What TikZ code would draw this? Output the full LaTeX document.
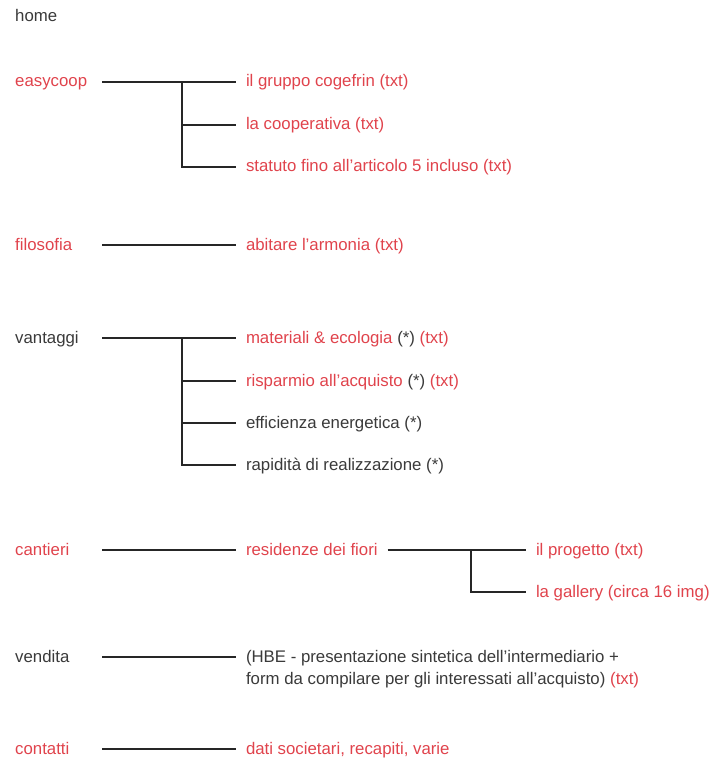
\documentclass[tikz,border=0pt]{standalone}
\usepackage{fontspec}
\setmainfont{Liberation Sans}
\usepackage{tikz}

\definecolor{sitered}{HTML}{E0434C}
\definecolor{sitegray}{HTML}{3A3A3A}

\begin{document}
\begin{tikzpicture}[x=1pt,y=-1pt,
    lbl/.style={anchor=west,inner sep=0pt,text height=12.5pt,text depth=2.5pt,
        font=\fontsize{16.8}{22}\selectfont,text=sitegray},
    sub/.style={lbl,outer xsep=10pt},
    hot/.style={text=sitered},
    link/.style={draw=black!85,line width=1.1pt}]

    \useasboundingbox (0,0) rectangle (710,759);

    % columns where the connectors start and fork
    \coordinate (start) at (102,0);
    \coordinate (fork) at (182,0);
    \coordinate (fork2) at (471,0);

    \node[lbl] (home) at (15,17) {home};

    % easycoop
    \node[lbl,hot] (easycoop) at (15,82) {easycoop};
    \node[sub,hot] (gruppo) at (236,82) {il gruppo cogefrin (txt)};
    \node[sub,hot] (coop) at (236,125) {la cooperativa (txt)};
    \node[sub,hot] (statuto) at (236,167) {statuto fino all’articolo 5 incluso (txt)};
    \draw[link] (easycoop -| start) -- (gruppo.west);
    \draw[link] (gruppo -| fork) |- (statuto.west);
    \draw[link] (coop -| fork) -- (coop.west);

    % filosofia
    \node[lbl,hot] (filosofia) at (15,245) {filosofia};
    \node[sub,hot] (armonia) at (236,245) {abitare l’armonia (txt)};
    \draw[link] (filosofia -| start) -- (armonia.west);

    % vantaggi
    \node[lbl] (vantaggi) at (15,338) {vantaggi};
    \node[sub] (materiali) at (236,338)
        {\textcolor{sitered}{materiali \& ecologia} (*) \textcolor{sitered}{(txt)}};
    \node[sub] (risparmio) at (236,381)
        {\textcolor{sitered}{risparmio all’acquisto} (*) \textcolor{sitered}{(txt)}};
    \node[sub] (efficienza) at (236,423) {efficienza energetica (*)};
    \node[sub] (rapidita) at (236,465) {rapidità di realizzazione (*)};
    \draw[link] (vantaggi -| start) -- (materiali.west);
    \draw[link] (materiali -| fork) |- (rapidita.west);
    \draw[link] (risparmio -| fork) -- (risparmio.west);
    \draw[link] (efficienza -| fork) -- (efficienza.west);

    % cantieri
    \node[lbl,hot] (cantieri) at (15,550) {cantieri};
    \node[sub,hot] (residenze) at (236,550) {residenze dei fiori};
    \node[sub,hot] (progetto) at (526,550) {il progetto (txt)};
    \node[sub,hot] (gallery) at (526,592) {la gallery (circa 16 img)};
    \draw[link] (cantieri -| start) -- (residenze.west);
    \draw[link] (residenze.east) -- (progetto.west);
    \draw[link] (progetto -| fork2) |- (gallery.west);

    % vendita
    \node[lbl] (vendita) at (15,657) {vendita};
    \node[sub,align=left,text height=,text depth=,anchor=base west] (hbe) at (236,684)
        {(HBE - presentazione sintetica dell’intermediario +\\
         form da compilare per gli interessati all’acquisto) \textcolor{sitered}{(txt)}};
    \draw[link] (vendita -| start) -- (vendita -| hbe.west);

    % contatti
    \node[lbl,hot] (contatti) at (15,749) {contatti};
    \node[sub,hot] (dati) at (236,749) {dati societari, recapiti, varie};
    \draw[link] (contatti -| start) -- (dati.west);
\end{tikzpicture}
\end{document}
